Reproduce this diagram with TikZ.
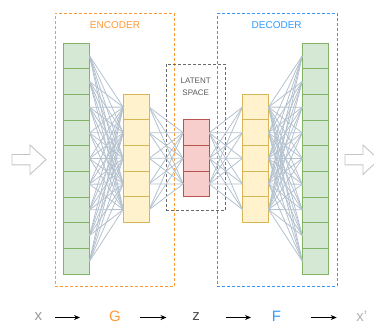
\documentclass[tikz,border=0pt]{standalone}
\usepackage{fontspec}
\setmainfont{Liberation Sans}
\usetikzlibrary{arrows.meta}
\definecolor{gfill}{HTML}{D5E8D4}\definecolor{gline}{HTML}{82B366}
\definecolor{yfill}{HTML}{FFF2CC}\definecolor{yline}{HTML}{D6B656}
\definecolor{rfill}{HTML}{F8CECC}\definecolor{rline}{HTML}{B85450}
\definecolor{encol}{HTML}{FF9933}\definecolor{decol}{HTML}{3399FF}
\definecolor{wirecol}{HTML}{B4C1CE}
\definecolor{latcol}{HTML}{595959}
\definecolor{hollow}{HTML}{C4C4C4}
\tikzset{
  cell/.style={draw, line width=0.9pt, minimum width=26pt, minimum height=25.67pt, inner sep=0pt, outer sep=0pt},
  gcell/.style={cell, fill=gfill, draw=gline},
  ycell/.style={cell, fill=yfill, draw=yline},
  rcell/.style={cell, fill=rfill, draw=rline},
  wire/.style={draw=wirecol, line width=0.8pt},
  groupbox/.style={draw, line width=0.9pt, dash pattern=on 3pt off 2pt, inner sep=0pt, outer sep=0pt},
  title/.style={font=\fontsize{10}{12}\selectfont, inner sep=0pt},
  sym/.style={font=\fontsize{15}{17}\selectfont, inner sep=0pt},
  flow/.style={-{Stealth[length=6pt,width=5pt]}, line width=0.9pt, black},
  bigarrow/.style={draw=hollow, fill=white, line width=0.9pt, line join=miter}
}
\begin{document}
\begin{tikzpicture}[x=1pt,y=-1pt]
\useasboundingbox (0,0) rectangle (374,324);

% group frames
\node[groupbox, draw=encol, minimum width=119.5pt, minimum height=273.2pt] (enc) at (114.75,149.9) {};
\node[groupbox, draw=decol, minimum width=119.7pt, minimum height=273.2pt] (dec) at (277.15,149.9) {};
\node[groupbox, draw=latcol!90, minimum width=59.7pt, minimum height=145.7pt] (lat) at (195.85,137.15) {};

\node[title, text=encol] (enctitle) at (115,25) {ENCODER};
\node[title, text=decol] (dectitle) at (276.7,25) {DECODER};
\node[font=\fontsize{8}{12}\selectfont, text=latcol, align=center, inner sep=0pt] (lattitle) at (195.7,86.7) {LATENT\\SPACE};

% layers
\foreach \i in {1,...,9} {
  \node[gcell] (eg\i) at (76.5,{43+25.67*(\i-0.5)}) {};
  \node[gcell] (dg\i) at (315.3,{43+25.67*(\i-0.5)}) {};
}
\foreach \i in {1,...,5} {
  \node[ycell] (ey\i) at (136.2,{94.3+25.6*(\i-0.5)}) {};
  \node[ycell] (dy\i) at (255.5,{94.3+25.6*(\i-0.5)}) {};
}
\foreach \i in {1,2,3} {
  \node[rcell] (r\i) at (196.2,{120+25.56*(\i-0.5)}) {};
}

% fully connected weights
\foreach \i in {1,...,9} \foreach \j in {1,...,5} {
  \draw[wire] (eg\i.east) -- (ey\j.west);
  \draw[wire] (dy\j.east) -- (dg\i.west);
}
\foreach \i in {1,...,5} \foreach \j in {1,2,3} {
  \draw[wire] (ey\i.east) -- (r\j.west);
  \draw[wire] (r\j.east) -- (dy\i.west);
}

% input / output arrows
\draw[bigarrow] (12,154.5) -- (30,154.5) -- (30,145) -- (46,159.7) -- (30,174.4) -- (30,164.9) -- (12,164.9) -- cycle;
\draw[bigarrow] (345,154.5) -- (363,154.5) -- (363,145) -- (379,159.7) -- (363,174.4) -- (363,164.9) -- (345,164.9) -- cycle;

% mapping chain
\node[sym, text=black!40] (sx) at (38.3,316.5) {x};
\node[sym, text=encol] (sG) at (115,316.5) {G};
\node[sym, text=black!70] (sz) at (196,316.5) {z};
\node[sym, text=decol] (sF) at (276.5,316.5) {F};
\node[sym, text=black!30] (sx2) at (361.7,316.5) {x'};
\coordinate (a1) at (55,317.5);  \coordinate (b1) at (80,317.5);
\coordinate (a2) at (140,317.5); \coordinate (b2) at (166.5,317.5);
\coordinate (a3) at (225.7,317.5); \coordinate (b3) at (251,317.5);
\coordinate (a4) at (310.7,317.5); \coordinate (b4) at (336.7,317.5);
\foreach \k in {1,...,4} \draw[flow] (a\k) -- (b\k);
\end{tikzpicture}
\end{document}
